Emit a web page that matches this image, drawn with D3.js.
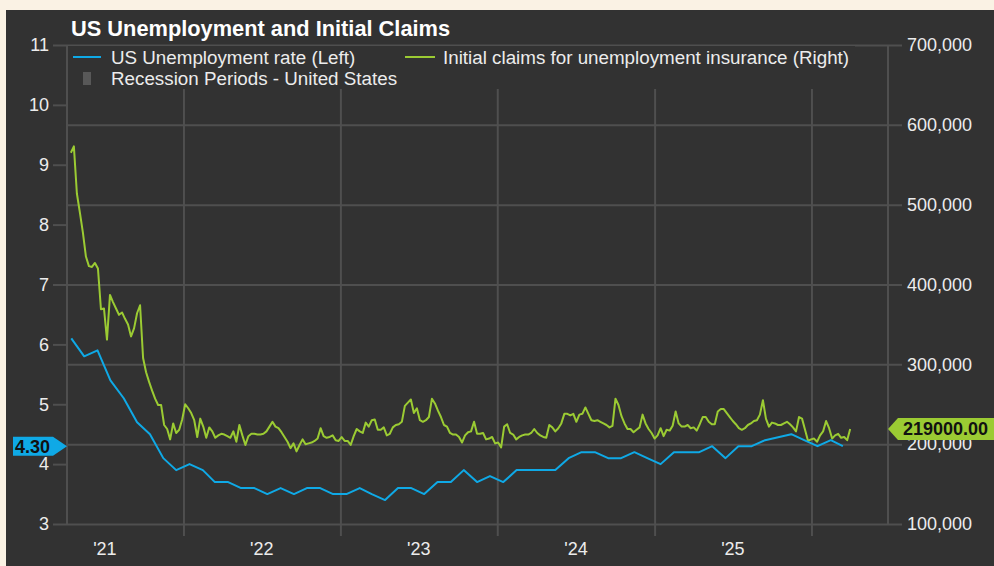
<!DOCTYPE html>
<html>
<head>
<meta charset="utf-8">
<script src="https://cdn.jsdelivr.net/npm/d3@7"></script>
<style>
body{margin:0;background:#faf2e4;}
svg{display:block;font-family:"Liberation Sans",Arial,sans-serif;}
</style>
</head>
<body>
<div id="chart"></div>
<script>
// axis ticks
var leftTicks = [3,4,5,6,7,8,9,10,11];
var rightTicks = [100,200,300,400,500,600,700]; // thousands
var yearGrid = [2022,2023,2024,2025,2026];
var yearLabels = [2021,2022,2023,2024,2025];

// US unemployment rate, monthly from Apr 2021 (Oct 2025 not published)
var rateStart = new Date(2021,3,15);
var rateValues = [6.1,5.8,5.9,5.4,5.1,4.7,4.5,4.1,3.9,4.0,
    3.9,3.7,3.7,3.6,3.6,3.5,3.6,3.5,3.6,3.6,
    3.5,3.5,3.6,3.5,3.4,3.6,3.6,3.5,3.7,3.7,
    3.9,3.7,3.8,3.7,3.9,3.9,3.9,3.9,4.1,4.2,
    4.2,4.1,4.1,4.2,4.1,4.0,4.2,4.2,4.2,4.3,
    4.1,4.3,4.3,4.4,null,4.5,4.4,4.3,4.4,4.3];

// initial claims, weekly, thousands
var claimsStart = new Date(2021,3,14);
var claimsValues = [565,573,514,490,465,435,423,422,427,420,
    369,370,331,387,378,370,362,365,357,350,
    335,345,364,374,308,290,278,267,257,249,
    249,224,219,206,226,214,218,231,250,245,
    239,230,209,232,222,208,221,216,208,211,
    213,212,210,208,216,203,224,211,199,210,
    213,213,212,212,213,216,222,228,222,220,
    215,209,203,195,201,191,199,206,200,201,
    202,204,207,220,
    210,208,209,211,205,204,209,204,204,199,
    210,219,216,214,227,222,230,231,218,218,
    221,211,213,221,224,225,228,248,252,256,
    239,245,230,228,230,234,257,251,242,234,
    224,222,214,212,212,209,202,211,215,216,
    228,213,213,214,206,207,209,201,202,196,
    222,225,214,212,206,209,211,212,212,214,
    219,214,211,209,208,224,221,216,220,226,
    238,238,236,238,228,237,238,246,238,230,
    229,230,228,226,224,221,223,257,249,235,
    226,219,219,215,218,221,237,226,219,
    214,207,211,220,210,218,217,223,241,226,
    222,222,224,220,221,217,225,234,234,228,
    225,225,241,244,244,239,234,229,225,220,
    218,220,224,226,229,230,237,255,232,222,
    227,226,224,224,226,228,225,221,216,234,
    232,218,204,206,207,203,211,216,229,220,
    207,211,213,208,209,205,219];

var blue = "#0fa9e6", green = "#9bcb33", gridCol = "#4f4f4f", textCol = "#ececec", bg = "#323232";

var rate = rateValues.map(function(v,i){ return {date: d3.timeMonth.offset(rateStart,i), value: v}; })
    .filter(function(d){ return d.value !== null; });
var claims = claimsValues.map(function(v,i){ return {date: d3.timeDay.offset(claimsStart,i*7), value: v}; });

var svg = d3.select("#chart").append("svg").attr("width",994).attr("height",566);
svg.append("rect").attr("width",994).attr("height",566).attr("fill","#faf2e4");
svg.append("rect").attr("x",6).attr("y",10).attr("width",988).attr("height",556).attr("fill",bg);

var pLeft = 67, pRight = 888, pTop = 45, pBottom = 524;
var x = d3.scaleTime().domain([new Date(2021,3,5), new Date(2026,5,28)]).range([pLeft,pRight]);
var yL = d3.scaleLinear().domain([3,11]).range([pBottom,pTop]);
var yR = d3.scaleLinear().domain([100,700]).range([pBottom,pTop]);

function styleAxis(g, size){
    g.select(".domain").remove();
    g.selectAll("line").attr("stroke",gridCol).attr("stroke-width",2);
    g.selectAll("text").attr("fill",textCol).attr("font-size",size).attr("font-family",null);
}

// vertical grid at year starts (runs below the axis as ticks)
svg.append("g").attr("transform","translate(0,536)")
    .call(d3.axisBottom(x).tickValues(yearGrid.map(function(y){ return new Date(y,0,1); }))
        .tickSize(-(536-pTop)).tickFormat(""))
    .call(styleAxis,18);

// horizontal grid + right axis labels
svg.append("g").attr("transform","translate("+pLeft+",0)")
    .call(d3.axisRight(yR).tickValues(rightTicks).tickSize(pRight-pLeft+14).tickPadding(5)
        .tickFormat(function(d){ return d3.format(",")(d*1000); }))
    .call(styleAxis,18);

// left axis
svg.append("g").attr("transform","translate("+pLeft+",0)")
    .call(d3.axisLeft(yL).tickValues(leftTicks).tickSize(14).tickPadding(4))
    .call(styleAxis,18);

// year labels at mid-year
svg.append("g").attr("transform","translate(0,"+pBottom+")")
    .call(d3.axisBottom(x).tickValues(yearLabels.map(function(y){ return new Date(y,6,1); }))
        .tickSize(0).tickPadding(18).tickFormat(d3.timeFormat("'%y")))
    .call(styleAxis,18);

svg.append("line").attr("x1",pLeft).attr("x2",pLeft).attr("y1",pTop).attr("y2",pBottom).attr("stroke",gridCol).attr("stroke-width",2);
svg.append("line").attr("x1",pRight).attr("x2",pRight).attr("y1",pTop).attr("y2",pBottom).attr("stroke",gridCol).attr("stroke-width",2);

// legend box hides the grid behind it
svg.append("rect").attr("x",pLeft+1).attr("y",pTop+1).attr("width",855-pLeft-1).attr("height",89-pTop-1).attr("fill",bg);

// lines
var rateLine = d3.line().x(function(d){ return x(d.date); }).y(function(d){ return yL(d.value); });
var claimsLine = d3.line().x(function(d){ return x(d.date); }).y(function(d){ return yR(d.value); });

svg.append("path").attr("d",claimsLine(claims)).attr("fill","none").attr("stroke",green).attr("stroke-width",2).attr("stroke-linejoin","round");
svg.append("path").attr("d",rateLine(rate)).attr("fill","none").attr("stroke",blue).attr("stroke-width",2).attr("stroke-linejoin","round");

// title
svg.append("text").attr("x",71).attr("y",36).text("US Unemployment and Initial Claims")
    .attr("fill","#ffffff").attr("font-size",21.8).attr("font-weight","bold");

// legend
var leg = svg.append("g").attr("font-size",18.8).attr("fill",textCol);
leg.append("line").attr("x1",73).attr("x2",101).attr("y1",57).attr("y2",57).attr("stroke",blue).attr("stroke-width",2);
leg.append("text").attr("x",111).attr("y",57).attr("dy","0.35em").text("US Unemployment rate (Left)");
leg.append("line").attr("x1",405).attr("x2",435).attr("y1",57).attr("y2",57).attr("stroke",green).attr("stroke-width",2);
leg.append("text").attr("x",443).attr("y",57).attr("dy","0.35em").text("Initial claims for unemployment insurance (Right)");
leg.append("rect").attr("x",83).attr("y",72).attr("width",8).attr("height",13).attr("fill","#585858");
leg.append("text").attr("x",111).attr("y",78).attr("dy","0.35em").text("Recession Periods - United States");

// last value flags
var lastRate = rate[rate.length-1].value;
var lastClaims = claims[claims.length-1].value;

var fl = svg.append("g").attr("transform","translate("+pLeft+","+yL(lastRate)+")");
fl.append("polygon").attr("points","-54,-9.5 -14,-9.5 0,0 -14,9.5 -54,9.5").attr("fill",blue);
fl.append("text").attr("x",-52).attr("dy","0.36em").text(d3.format(".2f")(lastRate))
    .attr("font-size",18).attr("font-weight","bold").attr("fill","#111");

var fr = svg.append("g").attr("transform","translate("+pRight+","+yR(lastClaims)+")");
fr.append("polygon").attr("points","0,0 10,-11 110,-11 110,11 10,11").attr("fill",green);
fr.append("text").attr("x",15).attr("dy","0.36em").text((lastClaims*1000).toFixed(2))
    .attr("font-size",18).attr("font-weight","bold").attr("fill","#111");
</script>
</body>
</html>
